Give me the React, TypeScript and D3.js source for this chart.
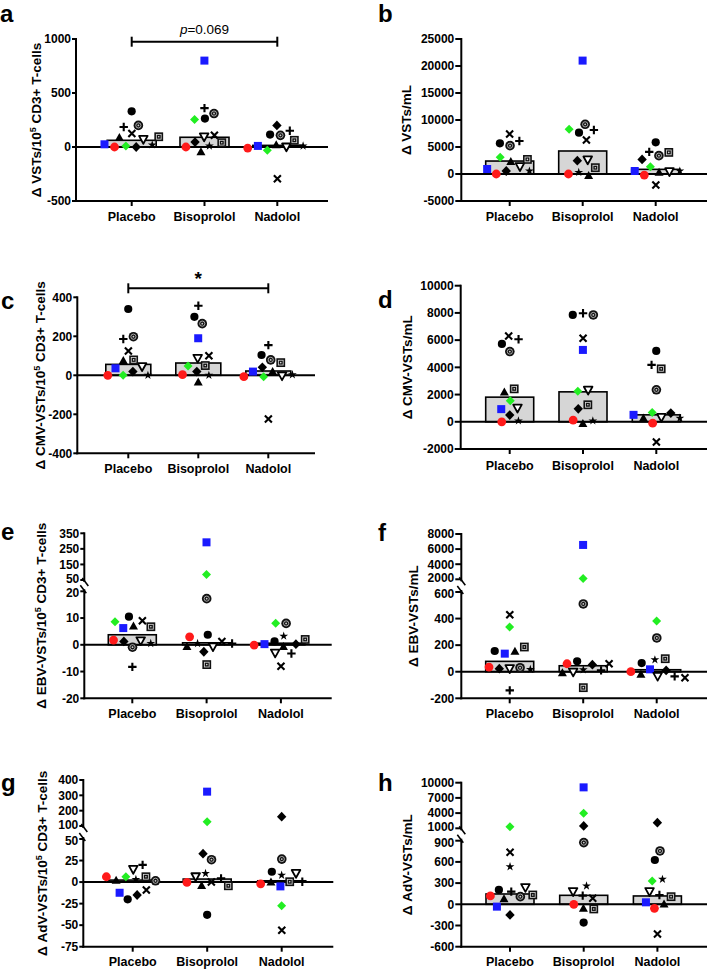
import React, { useMemo } from 'react';
import * as d3 from 'd3';

const groups = ['Placebo', 'Bisoprolol', 'Nadolol'];
const subjectShapes = ['redCircle', 'blueSquare', 'greenDiamond', 'blackCircle', 'blackDiamond', 'triangle', 'openTriangleDown', 'star', 'plus', 'cross', 'circleX', 'squareDot'];

// a: Δ VSTs/10^5 CD3+ T-cells
const aPlacebo = [0, 25, 10, 330, 0, 85, 70, 20, 185, 125, 200, 95];
const aBisoprolol = [0, 800, 254, 263, 46, -46, 93, 10, 360, 108, 310, 40];
const aNadolol = [-10, 10, -30, 115, 200, 20, 0, 10, 150, -295, 108, 62];
const aBars = [62, 90, 15];
const aTicks = [-500, 0, 500, 1000];

// b: Δ VSTs/mL
const bPlacebo = [0, 925, 3090, 5680, 555, 2280, 1360, 555, 6100, 7400, 5250, 2700];
const bBisoprolol = [0, 21000, 8270, 7650, 2470, -300, 2600, 300, 8150, 6300, 9200, 1170];
const bNadolol = [-200, 555, 1360, 5860, 2700, 300, 430, 555, 4100, -2040, 3400, 4000];
const bBars = [2400, 4260, 860];
const bTicks = [-5000, 0, 5000, 10000, 15000, 20000, 25000];

// c: Δ CMV-VSTs/10^5 CD3+ T-cells
const cPlacebo = [0, 36, 0, 340, 19, 75, 44, 0, 186, 125, 198, 79];
const cBisoprolol = [3, 190, 48, 300, 19, -36, 87, 0, 357, 100, 265, 50];
const cNadolol = [-7, 19, -7, 104, 41, 19, -3, 3, 155, -224, 79, 65];
const cBars = [56, 63, 22];
const cTicks = [-400, -200, 0, 200, 400];

// d: Δ CMV-VSTs/mL
const dPlacebo = [0, 930, 1550, 5720, 490, 2180, 1000, 70, 6060, 6300, 5160, 2420];
const dBisoprolol = [120, 5280, 2250, 7850, 950, -150, 2320, 70, 7970, 6140, 7850, 1250];
const dNadolol = [-100, 510, 680, 5210, 640, 270, 320, 270, 4180, -1490, 2350, 3890];
const dBars = [1810, 2200, 510];
const dTicks = [-2000, 0, 2000, 4000, 6000, 8000, 10000];

// e: Δ EBV-VSTs/10^5 CD3+ T-cells (broken axis)
const ePlacebo = [1.75, 6.25, 8.6, 10.5, 1.25, 7, 1.5, 0.5, -8.25, 9, -0.9, 6.75];
const eBisoprolol = [3, 292, 86, 3.75, -2.6, -0.75, -0.75, 0.5, 0.5, 1.25, 17.25, -7.4];
const eNadolol = [-0.1, 0.25, 8.1, 1.25, 0.25, -0.75, -3.1, 3.25, -3.25, -8, 8, 2];
const eBars = [3.75, 0.75, 0.6];
const eTicksLow = [-20, -10, 0, 10, 20];
const eTicksHigh = [50, 150, 250, 350];

// f: Δ EBV-VSTs/mL (broken axis)
const fPlacebo = [35, 136, 336, 156, 23, 153, 23, 18, -140, 429, 30, 186];
const fBisoprolol = [60, 6550, 2100, 78, 53, -10, -3, 15, 10, 60, 510, -120];
const fNadolol = [0, 18, 381, 65, 10, -20, -35, 90, -35, -45, 254, 98];
const fBars = [78, 45, 15];
const fTicksLow = [-200, 0, 200, 400, 600];
const fTicksHigh = [2000, 4000, 6000, 8000];

// g: Δ AdV-VSTs/10^5 CD3+ T-cells (broken axis)
const gPlacebo = [6.2, -12.4, 6.2, -20, -15, 2, 14.7, 3, 20, -9.3, 1.5, 6.2];
const gBisoprolol = [-0.4, 324, 128, -38, 33, -4.3, 6.2, 10, 4.3, 0, 26, -4.3];
const gNadolol = [-2, -5, -27.5, 12, 161, 0, 10, 8, 0.4, -56, 26.7, 0.4];
const gBars = [2.3, 3.5, 1.5];
const gTicksLow = [-75, -50, -25, 0, 25, 50];
const gTicksHigh = [100, 200, 300, 400];

// h: Δ AdV-VSTs/mL (broken axis)
const hPlacebo = [118, -33, 1330, 203, -151, 75, 236, 533, 180, 736, 108, 132];
const hBisoprolol = [0, 9080, 3960, -259, 1460, -57, 179, 260, 123, 85, 873, -66];
const hNadolol = [-57, 28, 330, 627, 2117, 0, 179, 354, 132, -420, 755, 108];
const hBars = [146, 127, 118];
const hTicksLow = [-600, -300, 0, 300, 600, 900];
const hTicksHigh = [1000, 4000, 7000, 10000];

const FONT = '"Liberation Sans", Arial, sans-serif';

type Panel = {
  letter: string; lx: number; ly: number;
  axisX: number; xEnd: number; cat0: number; step: number; barW: number; labelGap: number;
  low: { domain: number[]; range: number[]; ticks: number[] };
  high?: { domain: number[]; range: number[]; ticks: number[] };
  values: number[][]; bars: number[];
  titleMain: string; titlePer: boolean; titleTail: string; titleX: number; labelY: number;
  bracket?: { y: number; text: string; italicP: boolean };
};

const panels: Panel[] = [
  { letter: 'a', lx: 0, ly: 22, axisX: 76, xEnd: 328, cat0: 131.7, step: 72.8, barW: 49, labelGap: 5,
    low: { domain: [-500, 1000], range: [201, 39], ticks: aTicks },
    values: [aPlacebo, aBisoprolol, aNadolol], bars: aBars,
    titleMain: 'Δ VSTs/10', titlePer: true, titleTail: ' CD3+ T-cells', titleX: 36.5, labelY: 221,
    bracket: { y: 41.7, text: '=0.069', italicP: true } },
  { letter: 'b', lx: 378, ly: 22, axisX: 461.3, xEnd: 707, cat0: 509.7, step: 73, barW: 48, labelGap: 7,
    low: { domain: [-5000, 25000], range: [201, 39], ticks: bTicks },
    values: [bPlacebo, bBisoprolol, bNadolol], bars: bBars,
    titleMain: 'Δ VSTs/mL', titlePer: false, titleTail: '', titleX: 406, labelY: 221 },
  { letter: 'c', lx: 1, ly: 309, axisX: 77.3, xEnd: 315, cat0: 128.3, step: 70, barW: 45, labelGap: 5,
    low: { domain: [-400, 400], range: [453.3, 297.3], ticks: cTicks },
    values: [cPlacebo, cBisoprolol, cNadolol], bars: cBars,
    titleMain: 'Δ CMV-VSTs/10', titlePer: true, titleTail: ' CD3+ T-cells', titleX: 40.5, labelY: 473,
    bracket: { y: 288.3, text: '*', italicP: false } },
  { letter: 'd', lx: 378, ly: 308, axisX: 460.7, xEnd: 707, cat0: 509.7, step: 73.3, barW: 48, labelGap: 7,
    low: { domain: [-2000, 10000], range: [449, 285.7], ticks: dTicks },
    values: [dPlacebo, dBisoprolol, dNadolol], bars: dBars,
    titleMain: 'Δ CMV-VSTs/mL', titlePer: false, titleTail: '', titleX: 407.3, labelY: 470 },
  { letter: 'e', lx: 1, ly: 540, axisX: 84.3, xEnd: 331.7, cat0: 132.3, step: 74.3, barW: 48, labelGap: 5,
    low: { domain: [-20, 20], range: [698.3, 591.3], ticks: eTicksLow },
    high: { domain: [50, 350], range: [580, 533.3], ticks: eTicksHigh },
    values: [ePlacebo, eBisoprolol, eNadolol], bars: eBars,
    titleMain: 'Δ EBV-VSTs/10', titlePer: true, titleTail: ' CD3+ T-cells', titleX: 41.7, labelY: 718 },
  { letter: 'f', lx: 378, ly: 541, axisX: 461.3, xEnd: 707, cat0: 509.7, step: 73.5, barW: 48, labelGap: 7,
    low: { domain: [-200, 600], range: [698.3, 592], ticks: fTicksLow },
    high: { domain: [2000, 8000], range: [579.3, 534], ticks: fTicksHigh },
    values: [fPlacebo, fBisoprolol, fNadolol], bars: fBars,
    titleMain: 'Δ EBV-VSTs/mL', titlePer: false, titleTail: '', titleX: 413, labelY: 718 },
  { letter: 'g', lx: 1, ly: 791, axisX: 83.3, xEnd: 333.3, cat0: 132.7, step: 74.5, barW: 48, labelGap: 5,
    low: { domain: [-75, 50], range: [946.7, 839], ticks: gTicksLow },
    high: { domain: [100, 400], range: [826, 780], ticks: gTicksHigh },
    values: [gPlacebo, gBisoprolol, gNadolol], bars: gBars,
    titleMain: 'Δ AdV-VSTs/10', titlePer: true, titleTail: ' CD3+ T-cells', titleX: 42.5, labelY: 966 },
  { letter: 'h', lx: 378, ly: 791, axisX: 461.3, xEnd: 707, cat0: 510, step: 73.7, barW: 48, labelGap: 7,
    low: { domain: [-600, 900], range: [946.7, 840.7], ticks: hTicksLow },
    high: { domain: [1000, 10000], range: [828.3, 782.7], ticks: hTicksHigh },
    values: [hPlacebo, hBisoprolol, hNadolol], bars: hBars,
    titleMain: 'Δ AdV-VSTs/mL', titlePer: false, titleTail: '', titleX: 407.3, labelY: 966 },
];

function Marker({ shape, x, y }: { shape: string; x: number; y: number }) {
  const t = `translate(${x},${y})`;
  switch (shape) {
    case 'redCircle':
      return <circle cx={x} cy={y} r={4.4} fill="#ff1a1a" />;
    case 'blueSquare':
      return <rect x={x - 4} y={y - 4} width={8} height={8} fill="#1a1aff" />;
    case 'greenDiamond':
      return <path transform={t} d="M0,-4.5L4.5,0L0,4.5L-4.5,0Z" fill="#22ee22" />;
    case 'blackCircle':
      return <circle cx={x} cy={y} r={4.1} fill="#000" />;
    case 'blackDiamond':
      return <path transform={t} d="M0,-4.9L4.7,0L0,4.9L-4.7,0Z" fill="#000" />;
    case 'triangle':
      return <path transform={t} d="M0,-4.7L4.5,3.3L-4.5,3.3Z" fill="#000" />;
    case 'openTriangleDown':
      return <path transform={t} d="M-4.3,-3.5L4.3,-3.5L0,4.3Z" fill="#fff" stroke="#000" strokeWidth={1.8} strokeLinejoin="round" />;
    case 'star':
      return <path transform={t} d={d3.symbol().type(d3.symbolStar).size(24)() || ''} fill="#000" />;
    case 'plus':
      return <path transform={t} d="M-4.2,0H4.2M0,-4.2V4.2" stroke="#000" strokeWidth={2.1} />;
    case 'cross':
      return <path transform={t} d="M-3.5,-3.5L3.5,3.5M-3.5,3.5L3.5,-3.5" stroke="#000" strokeWidth={2.1} />;
    case 'circleX':
      return (
        <g transform={t}>
          <circle r={4.8} fill="#111" />
          <circle r={2.6} fill="none" stroke="#ccc" strokeWidth={0.8} />
          <circle r={0.9} fill="#ccc" />
        </g>
      );
    case 'squareDot':
      return (
        <g transform={t}>
          <rect x={-4.4} y={-4.4} width={8.8} height={8.8} fill="#111" />
          <rect x={-2.4} y={-2.4} width={4.8} height={4.8} fill="none" stroke="#ddd" strokeWidth={0.8} />
          <circle r={0.8} fill="#ddd" />
        </g>
      );
    default:
      return null;
  }
}

function PanelView({ p }: { p: Panel }) {
  const low = d3.scaleLinear().domain(p.low.domain).range(p.low.range);
  const high = p.high ? d3.scaleLinear().domain(p.high.domain).range(p.high.range) : null;
  const lowMax = p.low.domain[1];
  const yOf = (v: number) => (high && v > lowMax ? high(v) : low(v));
  const xs = d3.scalePoint<string>().domain(groups).range([p.cat0, p.cat0 + 2 * p.step]);

  const points = useMemo(() => {
    const out: { shape: string; x: number; y: number; key: string }[] = [];
    groups.forEach((g, gi) => {
      const cx = xs(g) as number;
      const nodes: any[] = p.values[gi].map((v, j) => ({
        shape: subjectShapes[j], x: cx + (j - 5.5) * 0.7, y: yOf(v), fy: yOf(v), idx: j,
      }));
      const sim = d3.forceSimulation(nodes)
        .force('x', d3.forceX(cx).strength(0.05))
        .force('c', d3.forceCollide(5.2).iterations(3))
        .stop();
      sim.tick(300);
      nodes.forEach((n) => out.push({ shape: n.shape, x: n.x, y: n.fy, key: `${g}-${n.idx}` }));
    });
    return out;
  }, [p]);

  const y0 = low(0);
  const yBottom = p.low.range[0];
  const yTopLow = p.low.range[1];
  const ax = p.axisX;

  // small nudge apart for the two labels at the axis break so they do not collide
  const allTicks = [
    ...p.low.ticks.map((v) => ({ v, y: low(v), dy: high && v === lowMax ? 1.6 : 0 })),
    ...(high && p.high ? p.high.ticks.map((v) => ({ v, y: high(v), dy: v === p.high!.domain[0] ? -1.6 : 0 })) : []),
  ];

  const titleCenterY = (p.high ? p.high.range[1] : yTopLow) / 2 + yBottom / 2;

  return (
    <g>
      <text x={p.lx} y={p.ly} fontFamily={FONT} fontWeight="bold" fontSize={24}>{p.letter}</text>
      <text transform={`translate(${p.titleX + 4.5},${titleCenterY}) rotate(-90)`} textAnchor="middle" fontFamily={FONT} fontWeight="bold" fontSize={13.5}>
        {p.titleMain}
        {p.titlePer && <tspan fontSize={9} dy={-5}>5</tspan>}
        {p.titlePer && <tspan dy={5}>{p.titleTail}</tspan>}
      </text>
      {p.bars.map((b, i) => (
        <rect key={'bar' + i} x={(xs(groups[i]) as number) - p.barW / 2} y={low(b)} width={p.barW} height={y0 - low(b)}
          fill="#d6d6d6" stroke="#000" strokeWidth={1.6} />
      ))}
      <line x1={ax} x2={p.xEnd} y1={y0} y2={y0} stroke="#000" strokeWidth={2} />
      <line x1={ax - 1} x2={p.xEnd} y1={yBottom} y2={yBottom} stroke="#000" strokeWidth={2} />
      {groups.map((g) => (
        <line key={'xt' + g} x1={xs(g)} x2={xs(g)} y1={yBottom} y2={yBottom + 5} stroke="#000" strokeWidth={2} />
      ))}
      {groups.map((g) => (
        <text key={'xl' + g} x={xs(g)} y={p.labelY} textAnchor="middle" fontFamily={FONT} fontWeight="bold" fontSize={12.5}>{g}</text>
      ))}
      {high && p.high ? (
        <g stroke="#000" strokeWidth={2}>
          <line x1={ax} x2={ax} y1={p.high.range[1] - 1} y2={p.high.range[0] + 2} />
          <line x1={ax} x2={ax} y1={yTopLow - 2} y2={yBottom + 1} />
          <line x1={ax - 2} x2={ax + 4} y1={p.high.range[0] - 2} y2={p.high.range[0] + 6} strokeWidth={1.6} />
          <line x1={ax - 4} x2={ax + 2} y1={yTopLow - 6} y2={yTopLow + 2} strokeWidth={1.6} />
        </g>
      ) : (
        <line x1={ax} x2={ax} y1={yTopLow - 1} y2={yBottom + 1} stroke="#000" strokeWidth={2} />
      )}
      {allTicks.map((t, i) => (
        <g key={'yt' + i}>
          <line x1={ax - p.labelGap + 1} x2={ax} y1={t.y} y2={t.y} stroke="#000" strokeWidth={2} />
          <text x={ax - p.labelGap} y={t.y + t.dy} dy="0.36em" textAnchor="end" fontFamily={FONT} fontWeight="bold" fontSize={12}>{String(t.v)}</text>
        </g>
      ))}
      {p.bracket && (() => {
        const x1 = xs(groups[0]) as number;
        const x2 = xs(groups[2]) as number;
        const by = p.bracket!.y;
        return (
          <g>
            <line x1={x1} x2={x2} y1={by} y2={by} stroke="#000" strokeWidth={2} />
            <line x1={x1} x2={x1} y1={by - 5} y2={by + 5} stroke="#000" strokeWidth={2} />
            <line x1={x2} x2={x2} y1={by - 5} y2={by + 5} stroke="#000" strokeWidth={2} />
            {p.bracket!.italicP ? (
              <text x={(x1 + x2) / 2} y={by - 8} textAnchor="middle" fontFamily={FONT} fontSize={13.5}>
                <tspan fontStyle="italic">p</tspan>{p.bracket!.text}
              </text>
            ) : (
              <text x={(x1 + x2) / 2} y={by - 3} textAnchor="middle" fontFamily={FONT} fontWeight="bold" fontSize={19}>{p.bracket!.text}</text>
            )}
          </g>
        );
      })()}
      {points.map((pt) => (
        <Marker key={pt.key} shape={pt.shape} x={pt.x} y={pt.y} />
      ))}
    </g>
  );
}

export default function App() {
  return (
    <svg width={708} height={970} style={{ position: 'absolute', left: 0, top: 0, background: '#fff' }}>
      <rect width={708} height={970} fill="#fff" />
      {panels.map((p) => (
        <PanelView key={p.letter} p={p} />
      ))}
    </svg>
  );
}
